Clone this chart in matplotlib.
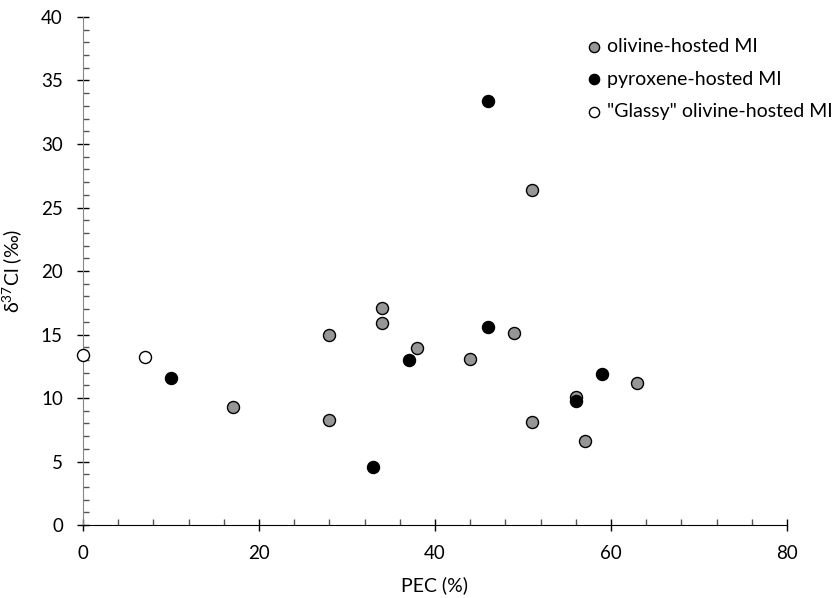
import matplotlib
matplotlib.use("Agg")
import matplotlib.pyplot as plt
from matplotlib.ticker import MultipleLocator

plt.rcParams['font.family'] = ['Lato', 'DejaVu Sans']
plt.rcParams['mathtext.fontset'] = 'custom'
plt.rcParams['mathtext.rm'] = 'Lato'
plt.rcParams['mathtext.it'] = 'Lato:italic'

# olivine-hosted MI
oli_pec = [17, 28, 28, 34, 34, 38, 44, 49, 51, 51, 56, 57, 63]
oli_cl = [9.3, 15.0, 8.3, 17.1, 15.9, 13.9, 13.1, 15.1, 26.4, 8.1, 10.1, 6.6, 11.2]

# pyroxene-hosted MI
pyx_pec = [10, 33, 37, 46, 46, 56, 59]
pyx_cl = [11.6, 4.6, 13.0, 15.6, 33.4, 9.8, 11.9]

# "Glassy" olivine-hosted MI
gl_pec = [0, 7]
gl_cl = [13.4, 13.2]

fig = plt.figure(figsize=(8.37, 5.98), dpi=100)
ax = fig.add_axes([0.0992, 0.122, 0.8410, 0.8496])

ax.scatter(oli_pec, oli_cl, s=75, c='#969696', edgecolors='black', linewidths=1.0,
           label='olivine-hosted MI', zorder=3, clip_on=False)
ax.scatter(pyx_pec, pyx_cl, s=75, c='black', edgecolors='black', linewidths=1.0,
           label='pyroxene-hosted MI', zorder=3, clip_on=False)
ax.scatter(gl_pec, gl_cl, s=75, c='white', edgecolors='black', linewidths=1.0,
           label='"Glassy" olivine-hosted MI', zorder=3, clip_on=False)

ax.set_xlim(0, 80)
ax.set_ylim(0, 40)
ax.xaxis.set_major_locator(MultipleLocator(20))
ax.xaxis.set_minor_locator(MultipleLocator(4))
ax.yaxis.set_major_locator(MultipleLocator(5))
ax.yaxis.set_minor_locator(MultipleLocator(1))

ax.spines['top'].set_visible(False)
ax.spines['right'].set_visible(False)
ax.spines['left'].set_color('#868686')
ax.spines['bottom'].set_color('black')
ax.tick_params(which='major', direction='inout', length=9, width=1, labelsize=13.5, colors='black')
ax.tick_params(which='minor', direction='in', length=4, width=1, color='#555555')
ax.tick_params(axis='x', which='major', pad=10)
ax.tick_params(axis='y', which='major', pad=10)

ax.set_xlabel('PEC (%)', fontsize=14, labelpad=10)
ax.set_ylabel(r'δ$^{37}$Cl (‰)', fontsize=14, labelpad=12)

ax.legend(loc='upper right', bbox_to_anchor=(1.09, 0.993), frameon=False, fontsize=14,
          handletextpad=0.1, labelspacing=0.8, markerscale=0.85, handlelength=1.2)

fig.savefig('out.png', dpi=100)
